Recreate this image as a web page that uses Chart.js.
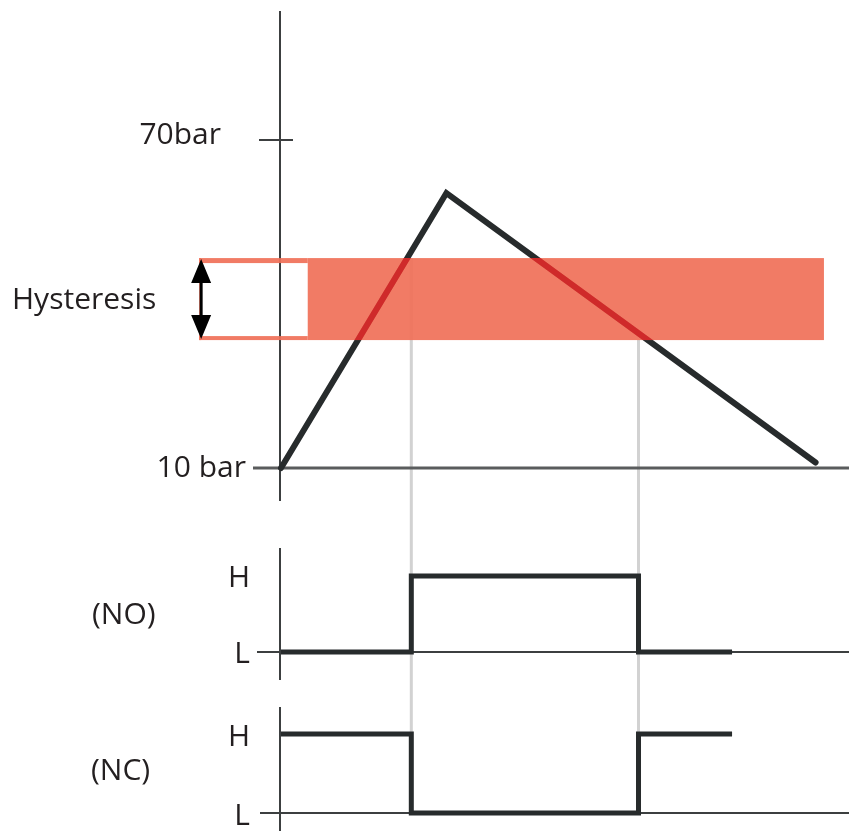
<!DOCTYPE html>
<html>
<head>
<meta charset="utf-8">
<script src="https://cdn.jsdelivr.net/npm/chart.js@4/dist/chart.umd.min.js"></script>
<style>
  html, body { margin: 0; padding: 0; background: #fff; }
  #wrap { position: relative; width: 849px; height: 834px; }
</style>
</head>
<body>
<div id="wrap"><canvas id="chart" width="849" height="834"></canvas></div>
<script>
// pressure curve (time units, bar)
const pressureTimes = [0, 4.95, 16];
const pressureValues = [10, 60.3, 11];

// hysteresis band (bar)
const bandUpper = 48.4;
const bandLower = 33.4;
const bandOutlineStart = -2.45;
const bandFillStart = 0.8;
const bandEnd = 16.25;

// switching outputs, 1 = H, 0 = L
const signalTimes = [0, 3.9, 10.7, 13.5];
const noValues = [0, 1, 0, 0];
const ncValues = [1, 0, 1, 1];
const switchTimes = [3.9, 10.7];

// axis labels
const pressureTickValues = [70, 10];
const pressureTickLabels = ["70bar", "10 bar"];
const levelTickValues = [1, 0];
const levelTickLabels = ["H", "L"];

const H = 834;
const INK = "#231f20";
const LINE = "#272b2c";
const FONT = '30px "Open Sans"';

// min/max so that value a sits at pixel pa and value b at pixel pb
function fitRange(a, pa, b, pb) {
  const k = (pa - pb) / (b - a);
  return { min: a - (H - pa) / k, max: b + pb / k };
}

const pRange = fitRange(10, 468, 70, 140);
const noRange = fitRange(0, 652, 1, 576);
const ncRange = fitRange(0, 813, 1, 734);

const toPoints = (xs, ys) => xs.map((x, i) => ({ x: x, y: ys[i] }));

const diagram = {
  id: "diagram",
  beforeDatasetsDraw(chart) {
    const { ctx, scales } = chart;
    const x = scales.x, p = scales.p, no = scales.no, nc = scales.nc;
    const x0 = x.getPixelForValue(0) - 1;
    ctx.save();

    // guide lines from the band down to the NC output
    ctx.strokeStyle = "#d2d2d2";
    ctx.lineWidth = 3;
    switchTimes.forEach((t, i) => {
      const px = x.getPixelForValue(t);
      ctx.beginPath();
      ctx.moveTo(px, p.getPixelForValue(i === 0 ? bandUpper : bandLower));
      ctx.lineTo(px, nc.getPixelForValue(1));
      ctx.stroke();
    });

    // axes
    ctx.strokeStyle = "#3c3f40";
    ctx.lineWidth = 2;
    ctx.beginPath();
    ctx.moveTo(x0, 11); ctx.lineTo(x0, 501);
    ctx.moveTo(x0, 548); ctx.lineTo(x0, 680);
    ctx.moveTo(x0, 707); ctx.lineTo(x0, 831);
    // 70 bar tick
    const y70 = p.getPixelForValue(70);
    ctx.moveTo(259, y70); ctx.lineTo(293, y70);
    ctx.stroke();

    ctx.strokeStyle = "#5a5c5d";
    ctx.lineWidth = 3;
    ctx.beginPath();
    const y10 = p.getPixelForValue(10);
    ctx.moveTo(253, y10); ctx.lineTo(849, y10);
    ctx.stroke();

    ctx.strokeStyle = "#3c3f40";
    ctx.lineWidth = 2;
    ctx.beginPath();
    const yNoL = no.getPixelForValue(0);
    ctx.moveTo(257, yNoL); ctx.lineTo(849, yNoL);
    const yNcL = nc.getPixelForValue(0);
    ctx.moveTo(260, yNcL); ctx.lineTo(849, yNcL);
    ctx.stroke();

    // labels
    ctx.fillStyle = INK;
    ctx.font = FONT;
    ctx.textBaseline = "middle";
    ctx.textAlign = "right";
    ctx.fillText(pressureTickLabels[0], 221, p.getPixelForValue(pressureTickValues[0]) - 5);
    ctx.fillText(pressureTickLabels[1], 246, p.getPixelForValue(pressureTickValues[1]));
    levelTickValues.forEach((v, i) => {
      ctx.fillText(levelTickLabels[i], 250, no.getPixelForValue(v) + 2);
      ctx.fillText(levelTickLabels[i], 250, nc.getPixelForValue(v) + 3);
    });
    ctx.textAlign = "left";
    ctx.fillText("Hysteresis", 12, 300);
    ctx.fillText("(NO)", 92, 615);
    ctx.fillText("(NC)", 91, 771);
    ctx.restore();
  },
  afterDatasetsDraw(chart) {
    const { ctx, scales } = chart;
    const x = scales.x, p = scales.p;
    const top = p.getPixelForValue(bandUpper);
    const bot = p.getPixelForValue(bandLower);
    const xo = x.getPixelForValue(bandOutlineStart);
    const xf = x.getPixelForValue(bandFillStart);
    const xe = x.getPixelForValue(bandEnd);
    ctx.save();
    ctx.fillStyle = "rgba(240,112,88,0.92)";
    ctx.fillRect(xf, top, xe - xf, bot - top);
    // open outline to the left
    ctx.fillRect(xo, top, xf - xo, 5);
    ctx.fillRect(xo, bot - 4, xf - xo, 4);
    ctx.fillRect(xo, top, 2, bot - top);

    // pressure line shows red inside the band
    ctx.beginPath();
    ctx.rect(xo, top, xe - xo, bot - top);
    ctx.clip();
    ctx.strokeStyle = "#cf2a2a";
    ctx.lineWidth = 6;
    ctx.lineJoin = "miter";
    ctx.beginPath();
    pressureTimes.forEach((t, i) => {
      const px = x.getPixelForValue(t), py = p.getPixelForValue(pressureValues[i]);
      if (i === 0) ctx.moveTo(px, py); else ctx.lineTo(px, py);
    });
    ctx.stroke();
    ctx.restore();

    // double arrow
    ctx.save();
    ctx.fillStyle = "#000";
    const ax = xo + 2;
    ctx.fillRect(ax - 1.5, top + 10, 3, bot - top - 20);
    ctx.beginPath();
    ctx.moveTo(ax, top + 1);
    ctx.lineTo(ax + 10, top + 25);
    ctx.lineTo(ax - 10, top + 25);
    ctx.closePath();
    ctx.moveTo(ax, bot - 1);
    ctx.lineTo(ax + 10, bot - 25);
    ctx.lineTo(ax - 10, bot - 25);
    ctx.closePath();
    ctx.fill();
    ctx.restore();
  }
};

new Chart(document.getElementById("chart"), {
  type: "line",
  data: {
    datasets: [
      {
        label: "pressure",
        data: toPoints(pressureTimes, pressureValues),
        yAxisID: "p",
        borderColor: LINE,
        borderWidth: 6,
        borderJoinStyle: "miter",
        borderCapStyle: "round",
        pointRadius: 0,
        clip: false
      },
      {
        label: "NO",
        data: toPoints(signalTimes, noValues),
        yAxisID: "no",
        stepped: "before",
        borderColor: LINE,
        borderWidth: 5,
        pointRadius: 0,
        clip: false
      },
      {
        label: "NC",
        data: toPoints(signalTimes, ncValues),
        yAxisID: "nc",
        stepped: "before",
        borderColor: LINE,
        borderWidth: 5,
        pointRadius: 0,
        clip: false
      }
    ]
  },
  options: {
    responsive: false,
    devicePixelRatio: 1,
    animation: false,
    layout: { padding: { left: 281, right: 0, top: 0, bottom: 0 } },
    plugins: { legend: { display: false }, tooltip: { enabled: false } },
    scales: {
      x: { type: "linear", min: 0, max: 17, display: false },
      p: { type: "linear", position: "left", min: pRange.min, max: pRange.max, display: false },
      no: { type: "linear", position: "left", min: noRange.min, max: noRange.max, display: false },
      nc: { type: "linear", position: "left", min: ncRange.min, max: ncRange.max, display: false }
    }
  },
  plugins: [diagram]
});
</script>
</body>
</html>
